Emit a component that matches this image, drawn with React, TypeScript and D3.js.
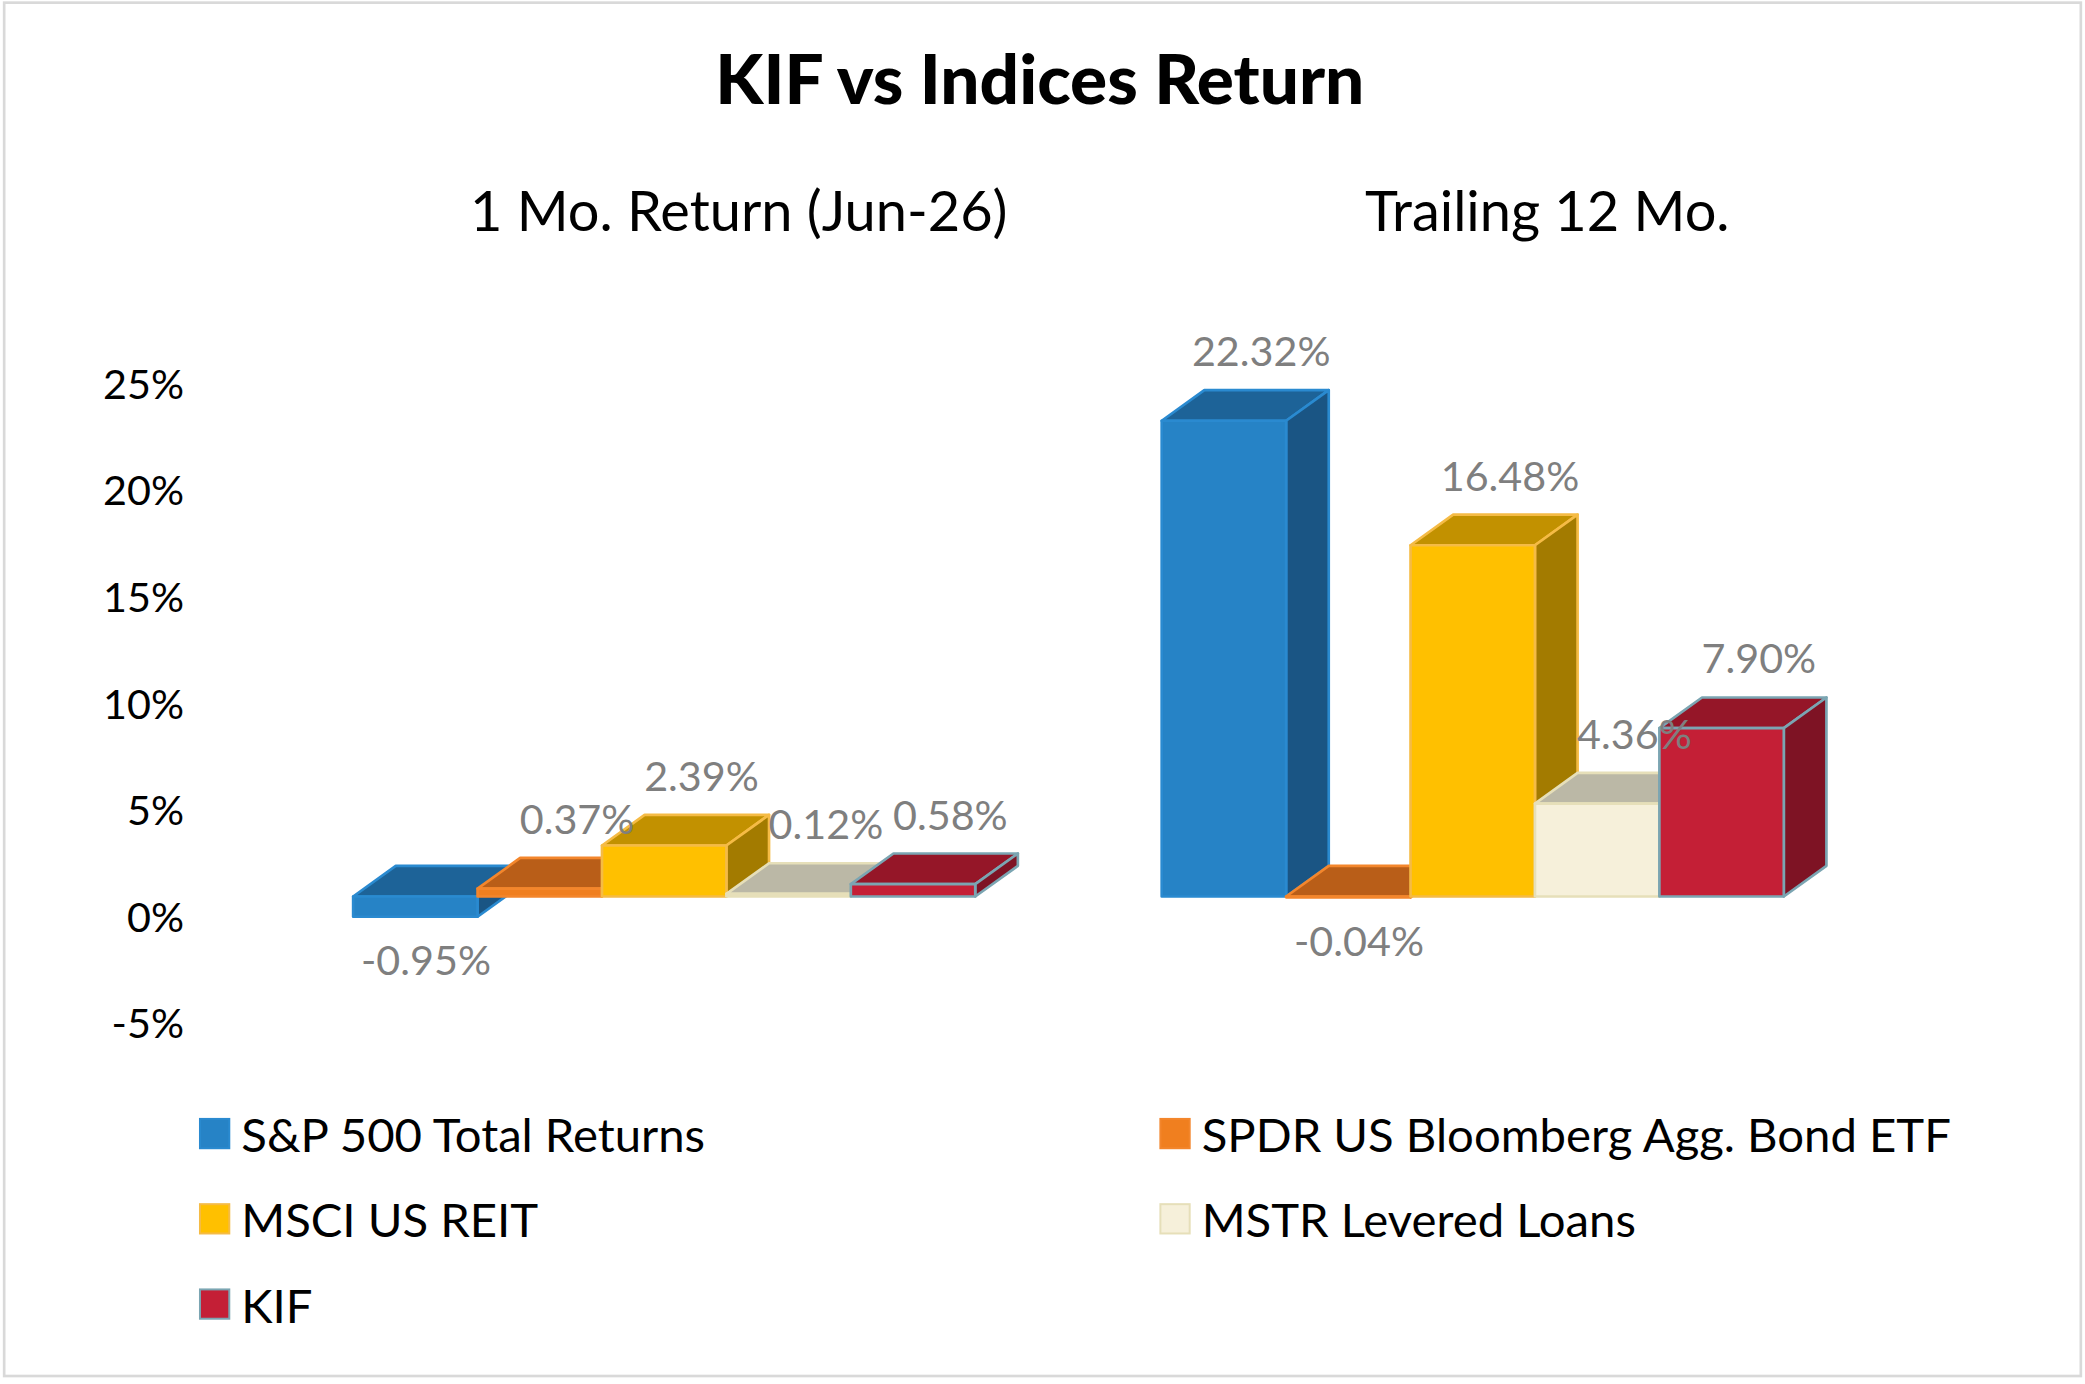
import React, { useEffect, useRef } from 'react'
import * as d3 from 'd3'

const periods = ['1 Mo. Return (Jun-26)', 'Trailing 12 Mo.']
const seriesNames = [
  'S&P 500 Total Returns',
  'SPDR US Bloomberg Agg. Bond ETF',
  'MSCI US REIT',
  'MSTR Levered Loans',
  'KIF',
]
const oneMonth = [-0.95, 0.37, 2.39, 0.12, 0.58]
const trailing12 = [22.32, -0.04, 16.48, 4.36, 7.9]
const yTicks = [-5, 0, 5, 10, 15, 20, 25]

const frontColors = ['#2683c6', '#f07f1f', '#ffc000', '#f6f0da', '#c41f36']
const topColors = ['#1d6398', '#b95e18', '#c29100', '#bbb8a6', '#951628']
const sideColors = ['#1a5584', '#9b4f14', '#a37b00', '#a8a596', '#7e1324']
const edgeColors = ['#2a8ad0', '#f3862c', '#f5bb45', '#e6dfb9', '#7ba5b2']

const W = 1565
const H = 1039
const FONT = 'Lato, "Open Sans", sans-serif'

const App = () => {
  const svgRef = useRef<SVGSVGElement>(null)

  useEffect(() => {
    const svg: any = d3.select(svgRef.current)
    svg.selectAll('*').remove()

    const values = [oneMonth, trailing12]

    const y = d3.scaleLinear().domain([-5, 25]).range([753, 273])
    const x0 = d3.scaleBand().domain(periods).range([195, 1409]).paddingInner(0.2306).paddingOuter(0.1153)
    const x1 = d3.scaleBand().domain(seriesNames).range([0, x0.bandwidth()])
    const dx = 32
    const dy = -23

    // frame
    svg.append('rect')
      .attr('x', 3).attr('y', 2).attr('width', W - 6).attr('height', H - 8)
      .attr('fill', '#fff').attr('stroke', '#d9d9d9').attr('stroke-width', 2)

    // title
    svg.append('text')
      .attr('x', W / 2 - 2).attr('y', 58)
      .attr('text-anchor', 'middle').attr('dominant-baseline', 'central')
      .attr('font-family', FONT).attr('font-weight', 900).attr('font-size', 52)
      .attr('fill', '#000')
      .text('KIF vs Indices Return')

    // category labels
    svg.selectAll('.cat')
      .data(periods)
      .join('text')
      .attr('class', 'cat')
      .attr('x', (d: string) => (x0(d) as number) + x0.bandwidth() / 2 + 56)
      .attr('y', 157)
      .attr('text-anchor', 'middle').attr('dominant-baseline', 'central')
      .attr('font-family', FONT).attr('font-size', 42).attr('fill', '#000')
      .text((d: string) => d)

    // y axis labels
    const axis = svg.append('g')
      .attr('transform', 'translate(138,16)')
      .call(d3.axisLeft(y).tickValues(yTicks).tickSize(0).tickPadding(0).tickFormat((d: any) => d + '%'))
    axis.select('.domain').remove()
    axis.selectAll('text')
      .attr('font-family', FONT).attr('font-size', 31).attr('fill', '#000')

    // bars
    const bars = svg.append('g')
    const labels = svg.append('g')
    periods.forEach((p, pi) => {
      seriesNames.forEach((s, i) => {
        const v = values[pi][i]
        const x = (x0(p) as number) + (x1(s) as number)
        const w = x1.bandwidth()
        const top = y(Math.max(v, 0))
        const bot = y(Math.min(v, 0))
        const g = bars.append('g')
          .attr('stroke', edgeColors[i]).attr('stroke-width', 2).attr('stroke-linejoin', 'round')
        g.append('polygon')
          .attr('points', [[x, top], [x + dx, top + dy], [x + w + dx, top + dy], [x + w, top]].map((q) => q.join(',')).join(' '))
          .attr('fill', topColors[i])
        g.append('polygon')
          .attr('points', [[x + w, top], [x + w + dx, top + dy], [x + w + dx, bot + dy], [x + w, bot]].map((q) => q.join(',')).join(' '))
          .attr('fill', sideColors[i])
        g.append('rect')
          .attr('x', x).attr('y', top).attr('width', w).attr('height', bot - top)
          .attr('fill', frontColors[i])

        labels.append('text')
          .attr('x', v >= 0 ? x + w / 2 + 28 : x + w / 2 + 8)
          .attr('y', v >= 0 ? top + dy - 30 : bot + 32)
          .attr('text-anchor', 'middle').attr('dominant-baseline', 'central')
          .attr('font-family', FONT).attr('font-size', 31).attr('fill', '#7f7f7f')
          .text(v.toFixed(2) + '%')
      })
    })

    // legend
    const legend = svg.append('g')
    seriesNames.forEach((s, i) => {
      const lx = i % 2 === 0 ? 150 : 871
      const ly = 851 + Math.floor(i / 2) * 64
      legend.append('rect')
        .attr('x', lx).attr('y', ly - 11).attr('width', 22).attr('height', 22)
        .attr('fill', frontColors[i]).attr('stroke', edgeColors[i]).attr('stroke-width', 1.5)
      legend.append('text')
        .attr('x', lx + 31).attr('y', ly)
        .attr('dominant-baseline', 'central')
        .attr('font-family', FONT).attr('font-size', 35.5).attr('fill', '#000')
        .text(s)
    })
  }, [])

  return (
    <svg
      ref={svgRef}
      width={2085}
      height={1384}
      viewBox={`0 0 ${W} ${H}`}
      style={{ position: 'absolute', left: 0, top: 0, background: '#fff' }}
    />
  )
}

export default App
